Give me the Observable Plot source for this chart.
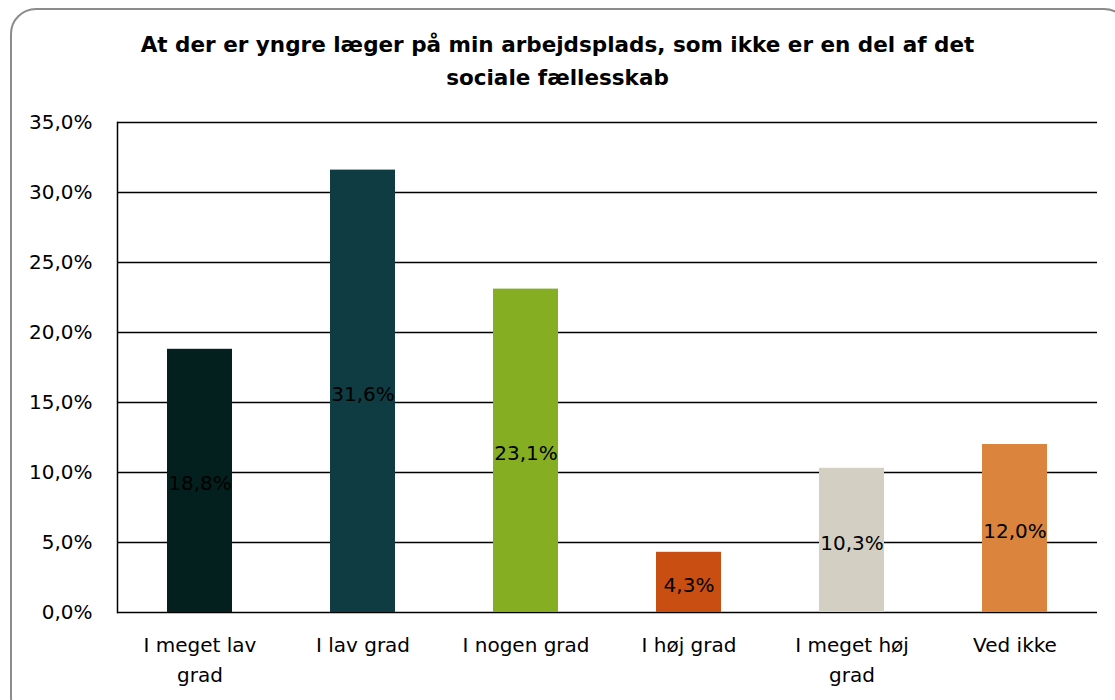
<!DOCTYPE html>
<html>
<head>
<meta charset="utf-8">
<script src="https://cdn.jsdelivr.net/npm/d3@7"></script>
<script src="https://cdn.jsdelivr.net/npm/@observablehq/plot@0.6"></script>
<style>
  html, body { margin: 0; padding: 0; background: #fff; }
  body { width: 1115px; height: 700px; position: relative; overflow: hidden; font-family: "DejaVu Sans", sans-serif; }
  #frame { position: absolute; left: 10px; top: 8px; width: 1120px; height: 715px; border: 2px solid #8c8c8c; border-radius: 26px; box-sizing: border-box; }
  #title { position: absolute; left: 0; width: 1115px; top: 28px; text-align: center; font-weight: bold; font-size: 21.5px; line-height: 33px; color: #000; }
  #chart { position: absolute; left: 0; top: 100px; }
</style>
</head>
<body>
<div id="frame"></div>
<div id="title">At der er yngre læger på min arbejdsplads, som ikke er en del af det<br>sociale fællesskab</div>
<div id="chart"></div>
<script>
const categories = ["I meget lav grad", "I lav grad", "I nogen grad", "I høj grad", "I meget høj grad", "Ved ikke"];
const tickLabels = ["I meget lav\ngrad", "I lav grad", "I nogen grad", "I høj grad", "I meget høj\ngrad", "Ved ikke"];
const values = [18.8, 31.6, 23.1, 4.3, 10.3, 12.0];
const colors = ["#03201e", "#0e3c42", "#86ae23", "#c94e12", "#d4cfc3", "#db843e"];
const yTicks = [0, 5, 10, 15, 20, 25, 30, 35];

const data = categories.map((c, i) => ({category: c, value: values[i]}));
const fmt = d3.formatLocale({decimal: ",", thousands: ".", grouping: [3], currency: ["", " kr"]}).format(".1f");
const labelOf = new Map(categories.map((c, i) => [c, tickLabels[i]]));

const chart = Plot.plot({
  width: 1115,
  height: 600,
  marginLeft: 117,
  marginRight: 18,
  marginTop: 22,
  marginBottom: 88,
  style: {fontFamily: "DejaVu Sans, sans-serif", fontSize: "20px", color: "#000", background: "transparent"},
  x: {domain: categories, paddingInner: 0.6, paddingOuter: 0.3, label: null},
  y: {domain: [0, 35], ticks: yTicks, label: null},
  color: {domain: categories, range: colors},
  marks: [
    Plot.gridY(yTicks, {stroke: "#000", strokeOpacity: 1, strokeWidth: 1.5}),
    Plot.frame({anchor: "left", stroke: "#000", strokeWidth: 1.5}),
    Plot.barY(data, {x: "category", y: "value", fill: "category"}),
    Plot.text(data, {x: "category", y: d => d.value / 2, dy: 3, text: d => fmt(d.value) + "%", fill: "#000", fontSize: 20}),
    Plot.axisY({ticks: yTicks, tickSize: 0, tickPadding: 25, tickFormat: d => fmt(d) + "%", fontSize: 20, label: null}),
    Plot.axisX({tickSize: 0, tickPadding: 18, tickFormat: d => labelOf.get(d), lineHeight: 1.5, fontSize: 20, label: null})
  ]
});
document.getElementById("chart").appendChild(chart);
</script>
</body>
</html>
